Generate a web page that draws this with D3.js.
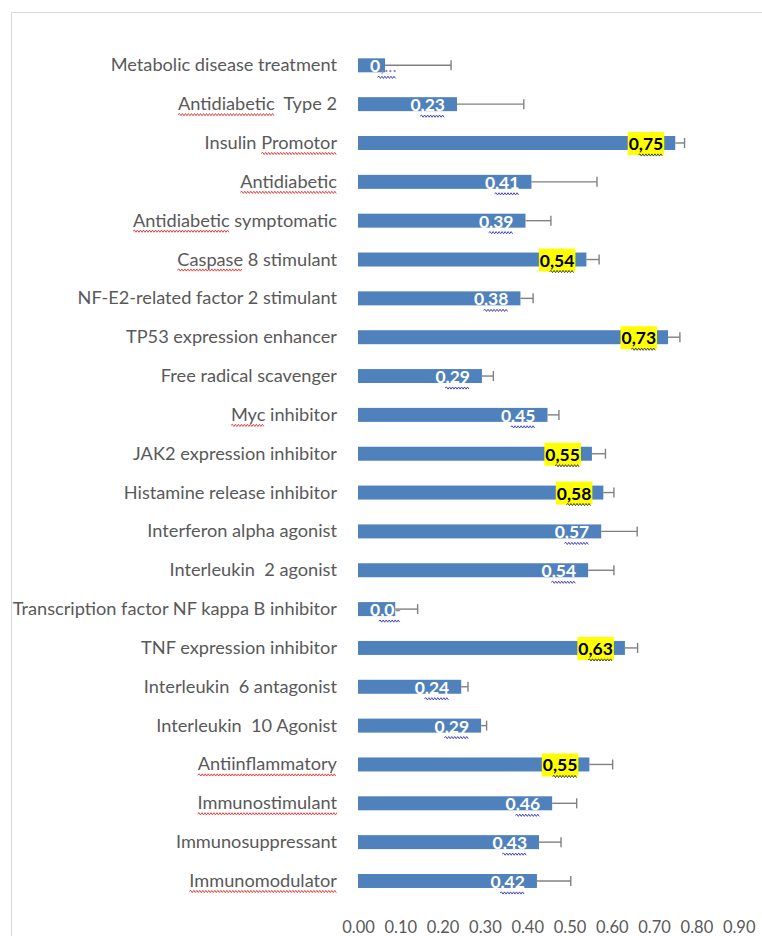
<!DOCTYPE html>
<html>
<head>
<meta charset="utf-8">
<script src="https://cdn.jsdelivr.net/npm/d3@7/dist/d3.min.js"></script>
<style>
  html, body { margin: 0; padding: 0; background: #ffffff; }
  svg { display: block; }
</style>
</head>
<body>
<svg id="chart" width="762" height="936"></svg>
<script>
// ---------------- data ----------------
const categories = [
  "Metabolic disease treatment",
  "Antidiabetic  Type 2",
  "Insulin Promotor",
  "Antidiabetic",
  "Antidiabetic symptomatic",
  "Caspase 8 stimulant",
  "NF-E2-related factor 2 stimulant",
  "TP53 expression enhancer",
  "Free radical scavenger",
  "Myc inhibitor",
  "JAK2 expression inhibitor",
  "Histamine release inhibitor",
  "Interferon alpha agonist",
  "Interleukin  2 agonist",
  "Transcription factor NF kappa B inhibitor",
  "TNF expression inhibitor",
  "Interleukin  6 antagonist",
  "Interleukin  10 Agonist",
  "Antiinflammatory",
  "Immunostimulant",
  "Immunosuppressant",
  "Immunomodulator"
];
const values = [0.064, 0.234, 0.75, 0.41, 0.396, 0.54, 0.384, 0.733, 0.293, 0.448, 0.553, 0.58,
                0.575, 0.544, 0.088, 0.631, 0.244, 0.291, 0.547, 0.459, 0.428, 0.423];
const errors = [0.156, 0.158, 0.022, 0.155, 0.06, 0.03, 0.03, 0.028, 0.027, 0.027, 0.032, 0.025,
                0.085, 0.061, 0.053, 0.03, 0.016, 0.013, 0.055, 0.058, 0.052, 0.08];
const dataLabels = ["0,...", "0,23", "0,75", "0,41", "0,39", "0,54", "0,38", "0,73", "0,29", "0,45", "0,55", "0,58",
                    "0,57", "0,54", "0,0-", "0,63", "0,24", "0,29", "0,55", "0,46", "0,43", "0,42"];
const highlighted = [false, false, true, false, false, true, false, true, false, false, true, true,
                     false, false, false, true, false, false, true, false, false, false];
const xTicks = [0, 0.1, 0.2, 0.3, 0.4, 0.5, 0.6, 0.7, 0.8, 0.9];
// words flagged with spell-check squiggles in the source picture
const flaggedWords = ["Antidiabetic", "Promotor", "Caspase", "Myc", "Antiinflammatory", "Immunostimulant", "Immunomodulator"];

// ---------------- layout ----------------
const svg = d3.select("#chart");
const FONT = "Lato, 'Open Sans', sans-serif";

// chart border
svg.append("path")
  .attr("d", "M11.5,936 L11.5,12.5 L762,12.5")
  .attr("fill", "none").attr("stroke", "#d9d9d9").attr("stroke-width", 1);

const x = d3.scaleLinear().domain([0, 0.9]).range([358, 358 + 0.9 * 423]);
const y = d3.scaleBand().domain(categories).range([45.9, 900.4]).paddingInner(0.64).paddingOuter(0.32);

function wavy(x0, x1, yy, amp, period) {
  let d = `M${x0},${yy}`;
  let up = true;
  for (let xx = x0 + period / 2; xx <= x1; xx += period / 2) {
    d += ` L${xx},${yy + (up ? -amp : amp)}`;
    up = !up;
  }
  return d;
}

const rows = categories.map((c, i) => ({
  cat: c, v: values[i], e: errors[i], label: dataLabels[i], hl: highlighted[i]
}));

// bars
svg.append("g").selectAll("rect").data(rows).join("rect")
  .attr("x", x(0))
  .attr("y", d => y(d.cat))
  .attr("width", d => x(d.v) - x(0))
  .attr("height", y.bandwidth())
  .attr("fill", "#4f81bd");

// error bars
const eg = svg.append("g").attr("stroke", "#808080").attr("stroke-width", 1.4).attr("fill", "none");
rows.forEach(d => {
  const cy = y(d.cat) + y.bandwidth() / 2;
  eg.append("line").attr("x1", x(d.v)).attr("x2", x(d.v + d.e)).attr("y1", cy).attr("y2", cy);
  eg.append("line").attr("x1", x(d.v + d.e)).attr("x2", x(d.v + d.e)).attr("y1", cy - 5).attr("y2", cy + 5);
});

// category labels
const catText = svg.append("g").selectAll("text").data(rows).join("text")
  .attr("x", 337)
  .attr("y", d => y(d.cat) + y.bandwidth() / 2)
  .attr("dy", "0.33em")
  .attr("text-anchor", "end")
  .attr("font-family", FONT)
  .attr("font-size", 18.2)
  .attr("fill", "#595959")
  .style("white-space", "pre")
  .text(d => d.cat);

// red squiggles under flagged words
const sq = svg.append("g").attr("fill", "none").attr("stroke", "#e03030").attr("stroke-width", 0.9);
catText.each(function(d) {
  const node = this;
  flaggedWords.forEach(w => {
    const idx = d.cat.indexOf(w);
    if (idx < 0) return;
    const x0 = node.getStartPositionOfChar(idx).x;
    const x1 = node.getEndPositionOfChar(idx + w.length - 1).x;
    const yy = y(d.cat) + y.bandwidth() / 2 + 10.5;
    sq.append("path").attr("d", wavy(x0, x1, yy, 1.1, 3));
  });
});

// data labels
const lg = svg.append("g");
rows.forEach(d => {
  const cy = y(d.cat) + y.bandwidth() / 2;
  const small = d.label.indexOf("0,") === 0 && (d.label.length > 4 || d.label.endsWith("-"));
  const t = lg.append("text")
    .attr("font-family", FONT)
    .attr("font-weight", "bold")
    .attr("font-size", 17.5)
    .attr("y", cy + 7);
  if (small) {
    t.attr("x", x(0) + 12).attr("text-anchor", "start");
    const head = d.label.endsWith("-") ? d.label.slice(0, 3) : d.label.slice(0, 1);
    const tail = d.label.slice(head.length);
    t.append("tspan").attr("fill", "#ffffff").text(head);
    t.append("tspan").attr("fill", "#8a8ab0").attr("font-weight", "normal").text(tail);
  } else {
    t.attr("x", x(d.v) - 12).attr("text-anchor", "end")
      .attr("fill", d.hl ? "#000000" : "#ffffff")
      .text(d.label);
  }
  const bb = t.node().getBBox();
  if (d.hl) {
    lg.insert("rect", () => t.node())
      .attr("x", bb.x - 1).attr("y", cy - 11).attr("width", bb.width + 2).attr("height", 23)
      .attr("fill", "#ffff00");
  }
  lg.append("path")
    .attr("d", wavy(bb.x + bb.width * 0.28, bb.x + bb.width, cy + 12, 1.1, 3))
    .attr("fill", "none").attr("stroke", d.hl ? "#303030" : "#3030c0").attr("stroke-width", 0.9);
});

// x axis
const axis = d3.axisBottom(x).tickValues(xTicks).tickFormat(d3.format(".2f")).tickSize(0).tickPadding(0);
const ag = svg.append("g").attr("transform", "translate(0,921)").call(axis);
ag.select(".domain").remove();
ag.selectAll("text")
  .attr("font-family", FONT)
  .attr("font-size", 16.5)
  .attr("fill", "#595959");
</script>
</body>
</html>
